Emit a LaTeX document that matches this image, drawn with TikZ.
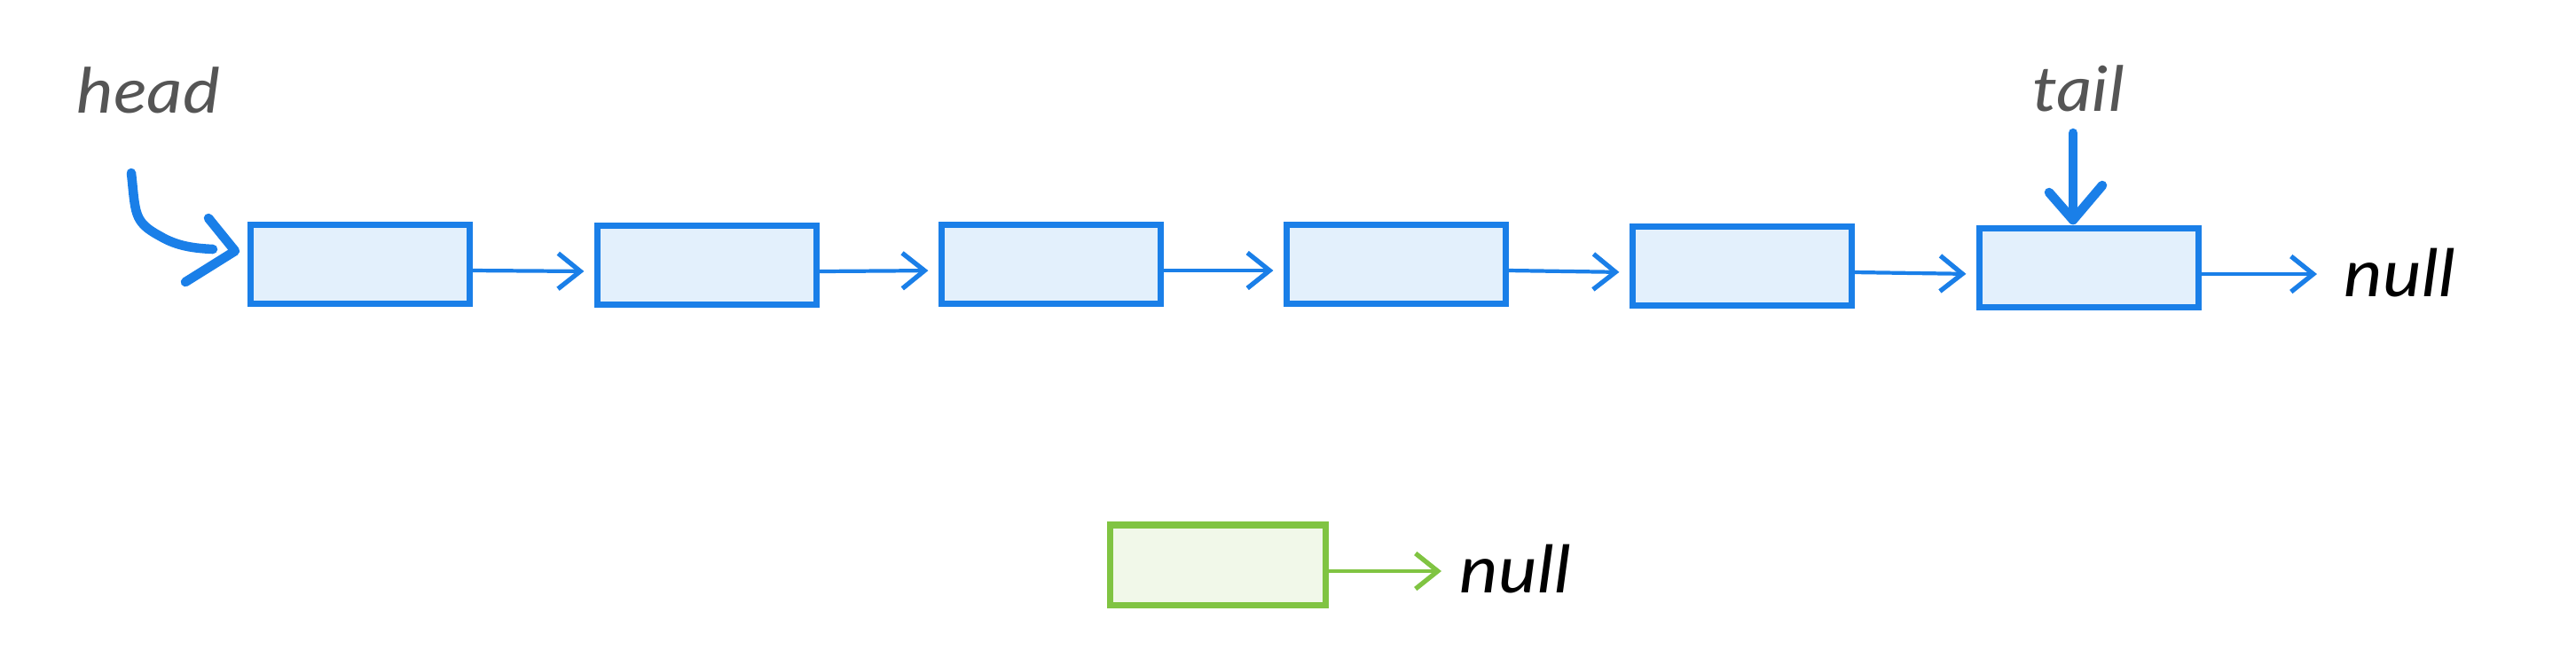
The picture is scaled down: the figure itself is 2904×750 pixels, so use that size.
\documentclass[tikz,border=0pt]{standalone}
\usepackage{fontspec}
\setmainfont{Lato}
\newfontfamily\handfont[FakeStretch=1.12]{Lato}
\usetikzlibrary{arrows.meta}
\definecolor{lblue}{HTML}{1A7FE8}
\definecolor{lbluefill}{HTML}{E3F0FC}
\definecolor{lgreen}{HTML}{80C442}
\definecolor{lgreenfill}{HTML}{F1F8E9}
\definecolor{lgray}{HTML}{555555}
\tikzset{
  listbox/.style={draw=lblue, fill=lbluefill, line width=2pt, inner sep=0pt,
    minimum width=2.46cm, minimum height=0.89cm},
  greenbox/.style={draw=lgreen, fill=lgreenfill, line width=2pt, inner sep=0pt,
    minimum width=2.43cm, minimum height=0.90cm},
  link/.style={draw=lblue, line width=1.2pt, line cap=round,
    -{Straight Barb[length=2.5mm,width=4mm,line width=1.5pt]}},
  greenlink/.style={draw=lgreen, line width=1.2pt, line cap=round,
    -{Straight Barb[length=2.5mm,width=4mm,line width=1.5pt]}},
  ptr/.style={draw=lblue, line width=3pt, line cap=round, line join=round},
  label/.style={font=\handfont\fontsize{20}{24}\selectfont\itshape, text=lgray, inner sep=0pt},
  nulltext/.style={font=\handfont\fontsize{21}{25}\selectfont\itshape, text=black, inner sep=0pt, anchor=west}
}
\begin{document}
\begin{tikzpicture}[x=0.01cm,y=-0.01cm]
\useasboundingbox (0,0) rectangle (2904,750);
% list boxes
\node[listbox] (b1) at (406,298) {};
\node[listbox] (b2) at (797,299) {};
\node[listbox] (b3) at (1185,298) {};
\node[listbox] (b4) at (1574,298) {};
\node[listbox] (b5) at (1964,300) {};
\node[listbox] (b6) at (2355,302) {};
% links
\foreach \a/\b in {b1/b2,b2/b3,b3/b4,b4/b5,b5/b6}{
  \draw[link, shorten >=0.12cm] ([yshift=-0.07cm]\a.east) -- ([yshift=-0.07cm]\b.west);
}
\node[nulltext] (n1) at (2642,308) {null};
\coordinate (e6) at ([yshift=-0.07cm]b6.east);
\draw[link, shorten >=0.3cm] (e6) -- (n1.west |- e6);
% head
\node[label] (head) at (167,102) {head};
\coordinate (hs) at (148,195);
\coordinate (ht) at (265,283);
\draw[ptr] (hs) .. controls (153,240) and (150,250) .. (180,266) .. controls (200,278) and (220,280) .. (240,281);
\draw[ptr] (235,246) -- (ht) -- (209,318);
% tail
\node[label] (tail) at (2343,100) {tail};
\coordinate (tt) at ([yshift=0.06cm]b6.north -| 2337,0);
\draw[ptr] (2337,150) -- (tt);
\draw[ptr] (2310,217) -- (tt) -- (2370,209);
% green box
\node[greenbox] (g) at (1373,637) {};
\node[nulltext] (n2) at (1645,642) {null};
\coordinate (eg) at ([yshift=-0.07cm]g.east);
\draw[greenlink, shorten >=0.2cm] (eg) -- (n2.west |- eg);
\end{tikzpicture}
\end{document}
